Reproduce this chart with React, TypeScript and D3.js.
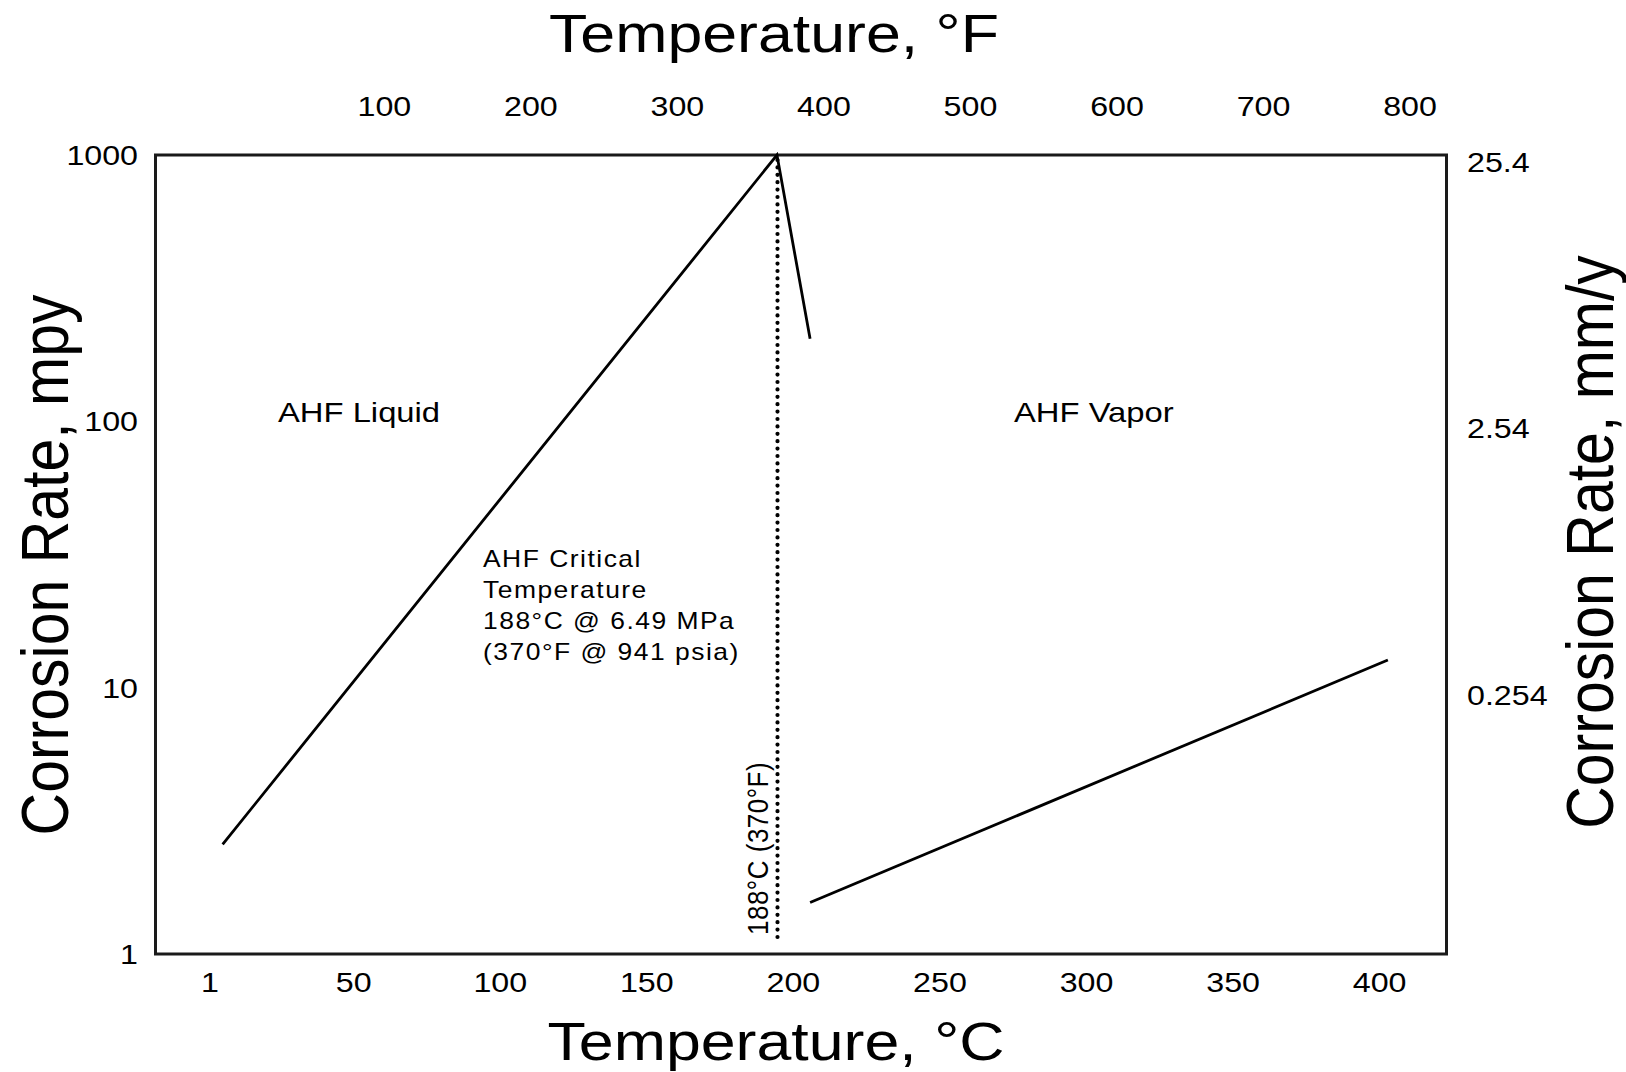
import React from "react";
import * as d3 from "d3";

// axis tick values
const tempC = [1, 50, 100, 150, 200, 250, 300, 350, 400];
const tempF = [100, 200, 300, 400, 500, 600, 700, 800];
const rateMpy = [1, 10, 100, 1000];
const rateMm = [25.4, 2.54, 0.254];

// curves (deg C, mpy)
const liquidC = [5.3, 194.4, 205.7];
const liquidMpy = [2.58, 1000, 204];
const vaporC = [205.7, 402.8];
const vaporMpy = [1.56, 12.7];

// critical temperature marker
const criticalC = 194.4;
const criticalSpan = [1.11, 1000];

const notes = ["AHF Critical", "Temperature", "188°C @ 6.49 MPa", "(370°F @ 941 psia)"];

const W = 1626;
const H = 1072;
const box = {left: 155.5, right: 1446.5, top: 155, bottom: 954};
const FONT = "'Liberation Sans', Arial, Helvetica, sans-serif";
const K = 1.15; // the original figure is stretched sideways

function HText(props: any) {
    const {x, y, anchor, size, spacing, children, dy} = props;
    return (
        <text transform={`translate(${x},${y}) scale(${K},1)`} textAnchor={anchor || "start"}
              fontSize={size} letterSpacing={spacing || 0} dy={dy || 0} fill="#000">
            {children}
        </text>
    );
}

function VText(props: any) {
    const {x, y, anchor, size, spacing, children, k} = props;
    return (
        <text transform={`translate(${x},${y}) rotate(-90) scale(1,${k || K})`} textAnchor={anchor || "middle"}
              fontSize={size} letterSpacing={spacing || 0} fill="#000">
            {children}
        </text>
    );
}

export default function App() {
    const xC = d3.scaleLinear().domain([-17.6, 422.8]).range([box.left, box.right]);
    const xF = d3.scaleLinear().domain([-56.2, 824.9]).range([box.left, box.right]);
    const y = d3.scaleLog().domain([1, 1000]).range([box.bottom, box.top]);
    const yMm = d3.scaleLog().domain([0.0254, 25.4]).range([box.bottom, box.top]);

    const line = d3.line<[number, number]>()
        .x(function(d){return xC(d[0])})
        .y(function(d){return y(d[1])});

    const liquid = liquidC.map((c, i) => [c, liquidMpy[i]] as [number, number]);
    const vapor = vaporC.map((c, i) => [c, vaporMpy[i]] as [number, number]);
    const cx = Math.round(xC(criticalC)) + 0.5;

    return (
        <svg width={W} height={H} style={{position: "absolute", left: 0, top: 0, background: "#fff"}}
             fontFamily={FONT}>
            <rect x={0} y={0} width={W} height={H} fill="#fff"/>

            {/* titles */}
            <HText x={774} y={52} anchor="middle" size={54.5}>Temperature, °F</HText>
            <HText x={776} y={1060} anchor="middle" size={54.5}>Temperature, °C</HText>
            <VText x={68} y={565} size={59} k={1.12}>Corrosion Rate, mpy</VText>
            <VText x={1613} y={542} size={59} k={1.12}>Corrosion Rate, mm/y</VText>

            {/* top °F labels */}
            {tempF.map((f) => (
                <HText key={"f" + f} x={xF(f)} y={116} anchor="middle" size={28}>{f}</HText>
            ))}
            {/* bottom °C labels */}
            {tempC.map((c) => (
                <HText key={"c" + c} x={xC(c)} y={992} anchor="middle" size={28}>{c}</HText>
            ))}
            {/* left mpy labels */}
            {rateMpy.map((r) => (
                <HText key={"r" + r} x={138} y={y(r)} anchor="end" size={28} dy="0.36em">{r}</HText>
            ))}
            {/* right mm/y labels */}
            {rateMm.map((r) => (
                <HText key={"m" + r} x={1467} y={yMm(r) + 7} size={28} dy="0.36em">{r}</HText>
            ))}

            {/* plot frame */}
            <rect x={box.left} y={box.top} width={box.right - box.left} height={box.bottom - box.top}
                  fill="none" stroke="#1a1a1a" strokeWidth={3}/>

            {/* critical temperature */}
            <line x1={cx} x2={cx} y1={y(criticalSpan[1]) + 5} y2={y(criticalSpan[0])}
                  stroke="#000" strokeWidth={4.2} strokeLinecap="round" strokeDasharray="0 7.4"/>

            <path d={line(liquid) || ""} fill="none" stroke="#000" strokeWidth={2.8} strokeLinejoin="miter"/>
            <path d={line(vapor) || ""} fill="none" stroke="#000" strokeWidth={2.8}/>

            {/* annotations */}
            <HText x={278} y={421.5} size={28.5}>AHF Liquid</HText>
            <HText x={1014} y={421.5} size={28.5}>AHF Vapor</HText>
            {notes.map((t, i) => (
                <HText key={t} x={483} y={566.5 + i * 31.2} size={23} spacing={1.3}>{t}</HText>
            ))}
            <VText x={768} y={935} anchor="start" size={26} spacing={0.5}>188°C (370°F)</VText>
        </svg>
    );
}
